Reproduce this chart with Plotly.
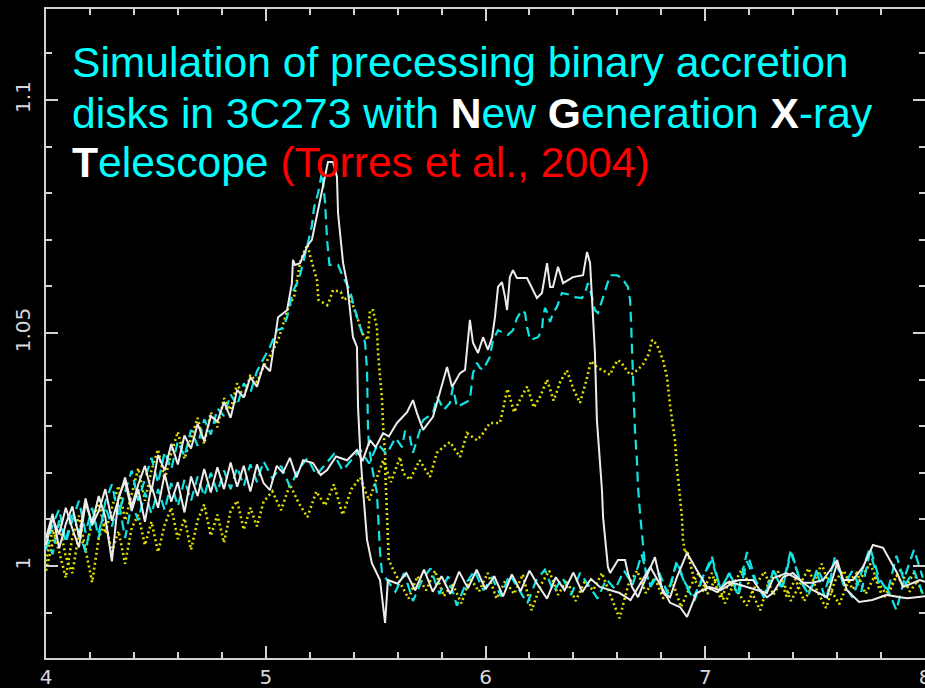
import plotly.graph_objects as go

# ---------------------------------------------------------------------------
# Simulated iron-line profiles of precessing binary accretion disks (3C273)
# Energy (keV) on x, normalised flux ratio on y.
# ---------------------------------------------------------------------------

# Common energy grid for the noisy low-energy part of every profile
LEAD_X = [4.00, 4.03, 4.06, 4.09, 4.12, 4.15, 4.18, 4.21, 4.24, 4.27,
          4.30, 4.33, 4.36, 4.39, 4.42, 4.45, 4.48, 4.51, 4.54, 4.57,
          4.60, 4.63, 4.66, 4.69, 4.72, 4.75, 4.78, 4.81, 4.84, 4.87,
          4.90, 4.93, 4.96, 4.99]

# ---- peaked profiles (blue edge near 5.4-5.6 keV) --------------------------
WHITE_PEAK_LEAD = [1.0060, 1.0112, 1.0038, 1.0090, 1.0128, 1.0062, 1.0145, 1.0088, 1.0118, 1.0165,
                   1.0097, 1.0142, 1.0190, 1.0128, 1.0175, 1.0215, 1.0160, 1.0238, 1.0205, 1.0262,
                   1.0218, 1.0280, 1.0252, 1.0305, 1.0268, 1.0322, 1.0310, 1.0352, 1.0318, 1.0378,
                   1.0362, 1.0405, 1.0385, 1.0432]
WHITE_PEAK_X = [5.02, 5.056, 5.097, 5.119, 5.124, 5.133, 5.156, 5.192, 5.210, 5.238,
                5.256, 5.270, 5.283, 5.306, 5.324, 5.329, 5.342, 5.352, 5.370, 5.383,
                5.397, 5.415, 5.420, 5.429, 5.438, 5.461, 5.483, 5.520, 5.543, 5.556,
                5.60, 5.64, 5.68, 5.72, 5.76, 5.80, 5.84, 5.88, 5.92, 5.96,
                6.00, 6.04, 6.08, 6.12, 6.16, 6.20, 6.24, 6.28, 6.32, 6.36,
                6.40, 6.44, 6.48, 6.52, 6.61, 6.66, 6.75, 6.79, 6.84, 6.885,
                6.917, 6.96, 7.02, 7.07, 7.126, 7.19, 7.235, 7.28, 7.31, 7.37,
                7.43, 7.49, 7.554, 7.60, 7.645, 7.70, 7.76, 7.827, 7.886, 7.92, 8.0]
WHITE_PEAK_Y = [1.0418, 1.0534, 1.0549, 1.0607, 1.0657, 1.0646, 1.0650, 1.0689, 1.0700, 1.0764,
                1.0807, 1.0835, 1.0867, 1.0867, 1.0835, 1.0757, 1.0700, 1.0650, 1.0607, 1.0549,
                1.0491, 1.0470, 1.0341, 1.0255, 1.0191, 1.0056, 1.0006, 0.9970, 0.9878, 0.9970,
                0.9962, 0.9985, 0.9948, 0.9992, 0.9945, 0.9978, 0.9940, 0.9988, 0.9952, 0.9992,
                0.9950, 0.9978, 0.9935, 0.9982, 0.9946, 0.9990, 0.9958, 0.9930, 0.9976, 0.9948,
                0.9986, 0.9944, 0.9972, 0.9955, 0.9942, 0.9927, 0.9998, 0.9964, 0.9921, 0.9912,
                0.9891, 0.9942, 0.9955, 0.9948, 0.9964, 0.9955, 0.9948, 0.9942, 0.9974, 0.9985,
                0.9970, 0.9948, 0.9933, 1.0006, 0.9948, 0.9923, 0.9927, 0.9938, 0.9933, 0.9931, 0.9935]

CYAN_PEAK_LEAD = [1.0035, 1.0088, 1.0122, 1.0050, 1.0098, 1.0140, 1.0072, 1.0125, 1.0060, 1.0138,
                  1.0175, 1.0110, 1.0160, 1.0205, 1.0140, 1.0188, 1.0232, 1.0178, 1.0245, 1.0208,
                  1.0268, 1.0235, 1.0292, 1.0258, 1.0315, 1.0282, 1.0338, 1.0322, 1.0368, 1.0345,
                  1.0392, 1.0372, 1.0418, 1.0445]
CYAN_PEAK_X = [5.019, 5.051, 5.078, 5.097, 5.124, 5.150, 5.170, 5.210, 5.220, 5.238,
               5.256, 5.270, 5.279, 5.290, 5.329, 5.352, 5.383, 5.406, 5.429, 5.452,
               5.461, 5.465, 5.470, 5.488, 5.506, 5.511, 5.520, 5.529, 5.552,
               5.59, 5.63, 5.67, 5.71, 5.75, 5.79, 5.83, 5.87, 5.91, 5.95,
               5.99, 6.03, 6.07, 6.11, 6.15, 6.19, 6.23, 6.27, 6.31, 6.35,
               6.39, 6.43, 6.47, 6.51, 6.55, 6.59, 6.63, 6.67, 6.71, 6.75,
               6.79, 6.83, 6.87, 6.91, 6.95, 6.99, 7.03, 7.07, 7.11, 7.15,
               7.19, 7.23, 7.27, 7.31, 7.35, 7.39, 7.43, 7.47, 7.51, 7.55,
               7.59, 7.63, 7.67, 7.71, 7.75, 7.79, 7.83, 7.87, 7.91, 7.95, 7.99]
CYAN_PEAK_Y = [1.0470, 1.0506, 1.0510, 1.0534, 1.0590, 1.0614, 1.0650, 1.0730, 1.0770, 1.0800,
               1.0845, 1.0780, 1.0700, 1.0646, 1.0646, 1.0620, 1.0592, 1.0549, 1.0513, 1.0479,
               1.0420, 1.0300, 1.0255, 1.0200, 1.0157, 1.0099, 1.0030, 0.9985, 0.9970,
               0.9945, 0.9985, 0.9925, 0.9968, 0.9995, 0.9940, 0.9978, 0.9915, 0.9962, 0.9990,
               0.9948, 0.9975, 0.9935, 0.9982, 0.9952, 0.9920, 0.9968, 0.9992, 0.9945, 0.9975,
               0.9938, 0.9985, 0.9958, 0.9930, 0.9972, 0.9950, 0.9990, 0.9960, 1.0025, 0.9955,
               0.9985, 0.9940, 1.0010, 0.9962, 0.9935, 0.9978, 1.0012, 0.9950, 0.9985, 0.9945,
               1.0030, 0.9968, 0.9935, 0.9990, 0.9955, 1.0035, 0.9970, 0.9940, 0.9982, 0.9925,
               1.0020, 0.9958, 0.9990, 0.9945, 1.0030, 0.9965, 0.9950, 0.9905, 0.9980, 1.0035, 0.9975]

YELLOW_PEAK_LEAD = [1.0010, 1.0078, 1.0030, 0.9975, 1.0062, 1.0108, 1.0035, 1.0092, 1.0140, 1.0070,
                    1.0125, 1.0172, 1.0098, 1.0155, 1.0210, 1.0140, 1.0205, 1.0250, 1.0185, 1.0242,
                    1.0288, 1.0230, 1.0275, 1.0318, 1.0262, 1.0330, 1.0298, 1.0360, 1.0335, 1.0392,
                    1.0360, 1.0410, 1.0395, 1.0428]
YELLOW_PEAK_X = [5.03, 5.06, 5.10, 5.13, 5.156, 5.17, 5.19, 5.205, 5.233, 5.24,
                 5.28, 5.29, 5.306, 5.342, 5.352, 5.383, 5.42, 5.438, 5.465, 5.474,
                 5.488, 5.506, 5.511, 5.520, 5.529, 5.534, 5.543, 5.545, 5.552, 5.556,
                 5.560, 5.574,
                 5.61, 5.65, 5.69, 5.73, 5.77, 5.81, 5.85, 5.89, 5.93, 5.97,
                 6.01, 6.05, 6.09, 6.13, 6.17, 6.21, 6.25, 6.29, 6.33, 6.37,
                 6.41, 6.45, 6.49, 6.53, 6.57, 6.61, 6.65, 6.69, 6.73, 6.77,
                 6.81, 6.85, 6.89, 6.93, 6.97, 7.01, 7.05, 7.09, 7.13, 7.17,
                 7.21, 7.25, 7.29, 7.33, 7.37, 7.41, 7.45, 7.49, 7.53, 7.57,
                 7.61, 7.65, 7.69, 7.73, 7.77, 7.81, 7.85, 7.89, 7.93, 7.97]
YELLOW_PEAK_Y = [1.0460, 1.0490, 1.0550, 1.0580, 1.0650, 1.0670, 1.0690, 1.0660, 1.0614, 1.0571,
                 1.0560, 1.0570, 1.0592, 1.0588, 1.0571, 1.0578, 1.0528, 1.0500, 1.0485, 1.0549,
                 1.0549, 1.0513, 1.0457, 1.0406, 1.0357, 1.0300, 1.0240, 1.0190, 1.0125, 1.0060,
                 1.0013, 0.9998,
                 0.9965, 0.9930, 0.9978, 0.9948, 0.9990, 0.9935, 0.9962, 0.9920, 0.9975, 0.9945,
                 0.9985, 0.9930, 0.9968, 0.9940, 0.9982, 0.9905, 0.9958, 0.9990, 0.9938, 0.9970,
                 0.9925, 0.9965, 0.9948, 0.9985, 0.9935, 0.9888, 0.9960, 0.9990, 0.9942, 0.9975,
                 0.9930, 0.9968, 0.9912, 0.9955, 0.9985, 0.9940, 0.9975, 0.9920, 0.9962, 0.9995,
                 0.9945, 0.9905, 0.9968, 0.9990, 0.9935, 0.9972, 0.9925, 0.9960, 1.0005, 0.9950,
                 0.9918, 0.9965, 0.9985, 0.9940, 0.9978, 0.9930, 0.9962, 0.9992, 0.9945, 0.9970]

# ---- broad profiles (blue edge near 6.5-6.9 keV) ---------------------------
WHITE_BROAD_LEAD = [1.0045, 1.0102, 1.0068, 1.0125, 1.0080, 1.0040, 1.0135, 1.0092, 1.0150, 1.0105,
                    1.0010, 1.0148, 1.0182, 1.0118, 1.0165, 1.0095, 1.0172, 1.0125, 1.0198, 1.0138,
                    1.0180, 1.0115, 1.0192, 1.0150, 1.0208, 1.0158, 1.0212, 1.0165, 1.0222, 1.0170,
                    1.0215, 1.0160, 1.0218, 1.0178]
WHITE_BROAD_X = [5.019, 5.05, 5.078, 5.11, 5.14, 5.170, 5.215, 5.25, 5.279, 5.32,
                 5.370, 5.415, 5.44, 5.474, 5.50, 5.534, 5.56, 5.597, 5.643, 5.670,
                 5.688, 5.716, 5.761, 5.793, 5.825, 5.848, 5.884, 5.907, 5.929, 5.943,
                 5.966, 5.989, 6.011, 6.030, 6.043, 6.057, 6.075, 6.089, 6.098, 6.111,
                 6.125, 6.143, 6.189, 6.234, 6.257, 6.280, 6.294, 6.307, 6.330, 6.353,
                 6.398, 6.444, 6.462, 6.476, 6.485, 6.489, 6.498, 6.507, 6.521, 6.530,
                 6.535, 6.553, 6.557, 6.567, 6.603, 6.635, 6.648, 6.667, 6.694, 6.726,
                 6.758, 6.771, 6.808, 6.840, 6.871, 6.917, 6.962, 7.008, 7.053, 7.099,
                 7.158, 7.217, 7.249, 7.281, 7.308, 7.354, 7.399, 7.445, 7.490, 7.536,
                 7.568, 7.600, 7.627, 7.672, 7.718, 7.763, 7.809, 7.841, 7.873, 7.900,
                 7.945, 7.977, 8.0]
WHITE_BROAD_Y = [1.0163, 1.0215, 1.0200, 1.0232, 1.0190, 1.0227, 1.0221, 1.0195, 1.0206, 1.0235,
                 1.0227, 1.0249, 1.0225, 1.0270, 1.0255, 1.0285, 1.0278, 1.0307, 1.0330, 1.0356,
                 1.0328, 1.0292, 1.0320, 1.0371, 1.0427, 1.0384, 1.0414, 1.0421, 1.0528, 1.0479,
                 1.0457, 1.0491, 1.0464, 1.0491, 1.0534, 1.0599, 1.0609, 1.0577, 1.0549, 1.0620,
                 1.0635, 1.0618, 1.0618, 1.0575, 1.0586, 1.0650, 1.0599, 1.0599, 1.0642, 1.0607,
                 1.0620, 1.0624, 1.0674, 1.0650, 1.0577, 1.0528, 1.0457, 1.0313, 1.0227, 1.0163,
                 1.0105, 1.0028, 0.9998, 0.9985, 1.0013, 1.0013, 0.9985, 0.9955, 0.9933, 0.9970,
                 1.0006, 1.0019, 0.9942, 0.9933, 0.9976, 1.0028, 0.9991, 0.9955, 0.9944, 0.9964,
                 0.9970, 0.9970, 0.9948, 0.9933, 0.9942, 0.9976, 0.9985, 0.9964, 0.9964, 0.9970,
                 0.9991, 1.0013, 0.9970, 0.9970, 0.9998, 1.0045, 1.0039, 1.0013, 0.9985, 0.9955,
                 0.9964, 0.9970, 0.9966]

CYAN_BROAD_LEAD = [1.0068, 1.0025, 1.0098, 1.0052, 1.0118, 1.0075, 1.0030, 1.0110, 1.0072, 1.0128,
                   1.0085, 1.0140, 1.0060, 1.0135, 1.0098, 1.0158, 1.0112, 1.0165, 1.0120, 1.0178,
                   1.0128, 1.0185, 1.0140, 1.0192, 1.0150, 1.0200, 1.0158, 1.0205, 1.0165, 1.0212,
                   1.0172, 1.0218, 1.0180, 1.0225]
CYAN_BROAD_X = [5.03, 5.07, 5.11, 5.15, 5.19, 5.23, 5.27, 5.31, 5.35, 5.39,
                5.43, 5.47, 5.51, 5.55, 5.59, 5.62, 5.634, 5.656, 5.670, 5.716,
                5.761, 5.780, 5.81, 5.838, 5.852, 5.870, 5.929, 5.943, 5.961, 5.975,
                5.989, 6.020, 6.034, 6.057, 6.102, 6.125, 6.143, 6.166, 6.180, 6.189,
                6.203, 6.239, 6.257, 6.262, 6.271, 6.280, 6.294, 6.307, 6.325, 6.348,
                6.385, 6.407, 6.439, 6.453, 6.466, 6.485, 6.498, 6.512, 6.530, 6.553,
                6.567, 6.598, 6.621, 6.648, 6.658, 6.662, 6.667, 6.671, 6.680, 6.689,
                6.694, 6.703, 6.712, 6.717, 6.730, 6.750,
                6.79, 6.83, 6.87, 6.91, 6.95, 6.99, 7.03, 7.07, 7.11, 7.15,
                7.19, 7.23, 7.27, 7.31, 7.35, 7.39, 7.43, 7.47, 7.51, 7.55,
                7.59, 7.63, 7.67, 7.71, 7.75, 7.79, 7.83, 7.87, 7.91, 7.95, 7.99]
CYAN_BROAD_Y = [1.0188, 1.0215, 1.0170, 1.0208, 1.0232, 1.0195, 1.0218, 1.0240, 1.0205, 1.0228,
                1.0250, 1.0220, 1.0262, 1.0240, 1.0275, 1.0255, 1.0290, 1.0277, 1.0243, 1.0313,
                1.0328, 1.0363, 1.0335, 1.0350, 1.0384, 1.0341, 1.0356, 1.0414, 1.0436, 1.0425,
                1.0421, 1.0449, 1.0485, 1.0506, 1.0496, 1.0506, 1.0532, 1.0549, 1.0543, 1.0513,
                1.0485, 1.0491, 1.0506, 1.0534, 1.0554, 1.0545, 1.0524, 1.0543, 1.0556, 1.0586,
                1.0582, 1.0577, 1.0575, 1.0586, 1.0607, 1.0577, 1.0549, 1.0543, 1.0571, 1.0607,
                1.0624, 1.0624, 1.0618, 1.0599, 1.0571, 1.0528, 1.0457, 1.0384, 1.0292, 1.0227,
                1.0170, 1.0114, 1.0071, 1.0034, 0.9981, 0.9960,
                0.9985, 0.9940, 1.0005, 0.9960, 0.9925, 0.9975, 1.0020, 0.9950, 0.9985, 0.9935,
                1.0010, 0.9965, 0.9930, 0.9990, 0.9950, 1.0028, 0.9972, 0.9938, 0.9995, 0.9955,
                1.0015, 0.9962, 0.9932, 0.9985, 1.0040, 0.9975, 0.9945, 1.0022, 0.9960, 0.9990, 0.9940]

YELLOW_BROAD_LEAD = [0.9990, 1.0050, 1.0092, 1.0020, 0.9985, 1.0070, 1.0035, 0.9965, 1.0060, 1.0095,
                     1.0030, 1.0075, 1.0005, 1.0082, 1.0110, 1.0045, 1.0095, 1.0030, 1.0088, 1.0125,
                     1.0058, 1.0102, 1.0035, 1.0098, 1.0132, 1.0065, 1.0110, 1.0050, 1.0118, 1.0140,
                     1.0078, 1.0125, 1.0085, 1.0138]
YELLOW_BROAD_X = [5.03, 5.07, 5.11, 5.15, 5.19, 5.23, 5.27, 5.31, 5.35, 5.39,
                  5.43, 5.47, 5.51, 5.534, 5.57, 5.611, 5.625, 5.656, 5.70, 5.747,
                  5.779, 5.807, 5.838, 5.884, 5.916, 5.961, 5.989, 6.02, 6.066, 6.10,
                  6.13, 6.16, 6.19, 6.22, 6.25, 6.28, 6.31, 6.34, 6.37, 6.40,
                  6.43, 6.46, 6.48, 6.51, 6.535, 6.567, 6.58, 6.603, 6.62, 6.658,
                  6.69, 6.717, 6.743, 6.758, 6.78, 6.808, 6.826, 6.84, 6.862, 6.871,
                  6.885, 6.894, 6.899, 6.908, 6.917,
                  6.95, 6.99, 7.03, 7.07, 7.11, 7.15, 7.19, 7.23, 7.27, 7.31,
                  7.35, 7.39, 7.43, 7.47, 7.51, 7.55, 7.59, 7.63, 7.67, 7.71,
                  7.75, 7.79, 7.83, 7.87, 7.91, 7.95, 7.99]
YELLOW_BROAD_Y = [1.0160, 1.0120, 1.0175, 1.0135, 1.0105, 1.0160, 1.0130, 1.0175, 1.0110, 1.0165,
                  1.0190, 1.0140, 1.0195, 1.0227, 1.0180, 1.0234, 1.0200, 1.0185, 1.0227, 1.0191,
                  1.0243, 1.0255, 1.0266, 1.0234, 1.0285, 1.0270, 1.0285, 1.0307, 1.0307, 1.0380,
                  1.0330, 1.0360, 1.0385, 1.0340, 1.0365, 1.0400, 1.0355, 1.0395, 1.0420, 1.0380,
                  1.0350, 1.0400, 1.0440, 1.0425, 1.0420, 1.0410, 1.0425, 1.0442, 1.0435, 1.0410,
                  1.0420, 1.0433, 1.0455, 1.0485, 1.0475, 1.0442, 1.0405, 1.0345, 1.0270, 1.0212,
                  1.0148, 1.0105, 1.0056, 1.0028, 1.0034,
                  0.9970, 0.9948, 0.9985, 0.9930, 0.9965, 0.9942, 0.9915, 0.9960, 0.9988, 0.9938,
                  0.9972, 0.9925, 0.9960, 0.9995, 0.9945, 0.9910, 0.9968, 0.9990, 0.9950, 0.9975,
                  1.0005, 0.9962, 0.9935, 0.9980, 0.9955, 0.9985, 0.9940]

# ---- axes -----------------------------------------------------------------
X_RANGE = [4.0, 8.0]
Y_RANGE = [0.98026, 1.11953]
X_TICKS = [4, 5, 6, 7, 8]
X_TICK_LABELS = ["4", "5", "6", "7", "8"]
Y_TICKS = [1.0, 1.05, 1.1]
Y_TICK_LABELS = ["1", "1.05", "1.1"]

# ---- caption --------------------------------------------------------------
CAPTION_LINES = [
    "Simulation of precessing binary accretion",
    "disks in 3C273 with <span style='color:#ffffff'><b>N</b></span>ew "
    "<span style='color:#ffffff'><b>G</b></span>eneration "
    "<span style='color:#ffffff'><b>X</b></span>-ray",
    "<span style='color:#ffffff'><b>T</b></span>elescope "
    "<span style='color:#ff0000'>(Torres et al., 2004)</span>",
]
CAPTION_Y = [0.9176, 0.8405, 0.7635]

WHITE = "#ececec"
CYAN = "#12e4e4"
YELLOW = "#e2e000"
FRAME = "#d2d2d2"

fig = go.Figure()

styles = {
    "yellow": dict(color=YELLOW, width=2.6, dash="2px,3px"),
    "cyan": dict(color=CYAN, width=2.2, dash="10px,6px"),
    "white": dict(color=WHITE, width=2.0),
}

series = [
    ("yellow", YELLOW_PEAK_LEAD, YELLOW_PEAK_X, YELLOW_PEAK_Y),
    ("yellow", YELLOW_BROAD_LEAD, YELLOW_BROAD_X, YELLOW_BROAD_Y),
    ("cyan", CYAN_PEAK_LEAD, CYAN_PEAK_X, CYAN_PEAK_Y),
    ("cyan", CYAN_BROAD_LEAD, CYAN_BROAD_X, CYAN_BROAD_Y),
    ("white", WHITE_PEAK_LEAD, WHITE_PEAK_X, WHITE_PEAK_Y),
    ("white", WHITE_BROAD_LEAD, WHITE_BROAD_X, WHITE_BROAD_Y),
]

for style, lead_y, xs, ys in series:
    fig.add_trace(go.Scatter(
        x=LEAD_X + xs,
        y=lead_y + ys,
        mode="lines",
        line=styles[style],
        hoverinfo="skip",
    ))

tick_font = dict(family="DejaVu Sans", size=20, color="#d8d8d8")

fig.update_xaxes(
    range=X_RANGE, automargin=False,
    showgrid=False, zeroline=False,
    showline=True, linecolor=FRAME, linewidth=2, mirror="allticks",
    ticks="inside", ticklen=12, tickwidth=2, tickcolor=FRAME,
    tickmode="array", tickvals=X_TICKS, ticktext=X_TICK_LABELS,
    tickfont=tick_font, ticklabelstandoff=0, ticklabeloverflow="allow",
    minor=dict(ticks="inside", ticklen=6, tickwidth=2, tickcolor=FRAME,
               tickmode="linear", tick0=4, dtick=0.2),
)
fig.update_yaxes(
    range=Y_RANGE, automargin=False,
    showgrid=False, zeroline=False,
    showline=True, linecolor=FRAME, linewidth=2, mirror="allticks",
    ticks="inside", ticklen=12, tickwidth=2, tickcolor=FRAME,
    tickmode="array", tickvals=Y_TICKS, ticktext=Y_TICK_LABELS,
    tickangle=-90, tickfont=tick_font, ticklabelstandoff=6,
    minor=dict(ticks="inside", ticklen=6, tickwidth=2, tickcolor=FRAME,
               tickmode="linear", tick0=1.0, dtick=0.01),
)

for text, y in zip(CAPTION_LINES, CAPTION_Y):
    fig.add_annotation(
        text=text, xref="paper", yref="paper", x=0.0273, y=y,
        xanchor="left", yanchor="middle", showarrow=False,
        font=dict(family="Liberation Sans, Arial", size=42.6, color="#00ffff"),
    )

fig.update_layout(
    width=925, height=688,
    margin=dict(l=46, r=0, t=9, b=30),
    paper_bgcolor="#000000", plot_bgcolor="#000000",
    showlegend=False,
)

fig.write_html("out.html")
